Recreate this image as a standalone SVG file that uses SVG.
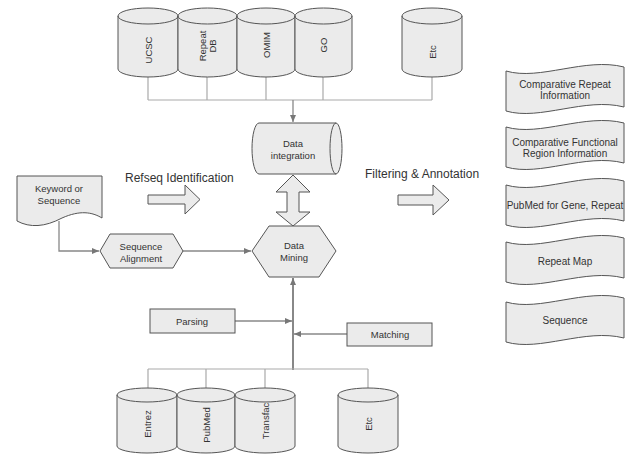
<svg xmlns="http://www.w3.org/2000/svg" width="629" height="455" viewBox="0 0 629 455">
<style>
.s{fill:#ebebeb;stroke:#555;stroke-width:1}
.ln{fill:none;stroke:#555;stroke-width:1}
.bus{fill:none;stroke:#aaa;stroke-width:1.2}
.con{fill:none;stroke:#888;stroke-width:1.3}
.main{fill:none;stroke:#888;stroke-width:2}
.t{font-family:"Liberation Sans",Arial,sans-serif;font-size:9.5px;fill:#333;text-anchor:middle;dominant-baseline:central}
.tp{font-family:"Liberation Sans",Arial,sans-serif;font-size:10px;fill:#333;text-anchor:middle;dominant-baseline:central}
.big{font-family:"Liberation Sans",Arial,sans-serif;font-size:12px;fill:#333}
</style>
<defs>
<marker id="ar" markerWidth="8" markerHeight="8" refX="7" refY="4" orient="auto" markerUnits="userSpaceOnUse">
<path d="M0,1 L7,4 L0,7 Z" fill="#777"/>
</marker>
</defs>
<rect width="629" height="455" fill="#fff"/>

<g id="connectors">
<path class="bus" d="M148,77 V100 M207,77 V100 M266,77 V100 M323,77 V100 M432,77 V100 M148,100 H432"/>
<path class="con" d="M293,100 V122" marker-end="url(#ar)"/>
<path class="con" d="M59,221 V251 H99" marker-end="url(#ar)"/>
<path class="con" d="M183,251 H251" marker-end="url(#ar)"/>
<path class="main" d="M293,370 V278" marker-end="url(#ar)"/>
<path class="con" d="M235,321 H292" marker-end="url(#ar)"/>
<path class="con" d="M347,334 H294" marker-end="url(#ar)"/>
<path class="bus" d="M148,369 H368 M148,369 V396 M206,369 V396 M265,369 V396 M368,369 V396"/>
</g>

<g id="db-ucsc">
<path class="s" d="M118,16 A30,8 0 0 1 178,16 V69 A30,8 0 0 1 118,69 Z"/>
<path class="ln" d="M118,16 A30,8 0 0 0 178,16"/>
<text class="t" transform="translate(148,50) rotate(-90)">UCSC</text>
</g>
<g id="db-repeat">
<path class="s" d="M178,16 A29.5,8 0 0 1 237,16 V69 A29.5,8 0 0 1 178,69 Z"/>
<path class="ln" d="M178,16 A29.5,8 0 0 0 237,16"/>
<text class="t" transform="translate(207,46) rotate(-90)"><tspan x="0" dy="-5">Repeat</tspan><tspan x="0" dy="10">DB</tspan></text>
</g>
<g id="db-omim">
<path class="s" d="M237,16 A29,8 0 0 1 295,16 V69 A29,8 0 0 1 237,69 Z"/>
<path class="ln" d="M237,16 A29,8 0 0 0 295,16"/>
<text class="t" transform="translate(266,45) rotate(-90)">OMIM</text>
</g>
<g id="db-go">
<path class="s" d="M295,16 A28.5,8 0 0 1 352,16 V69 A28.5,8 0 0 1 295,69 Z"/>
<path class="ln" d="M295,16 A28.5,8 0 0 0 352,16"/>
<text class="t" transform="translate(323,45) rotate(-90)">GO</text>
</g>
<g id="db-etc-top">
<path class="s" d="M402,16 A30,8 0 0 1 462,16 V69 A30,8 0 0 1 402,69 Z"/>
<path class="ln" d="M402,16 A30,8 0 0 0 462,16"/>
<text class="t" transform="translate(432,52) rotate(-90)">Etc</text>
</g>

<g id="data-integration">
<path class="s" d="M259,123 H336 A6,25.5 0 0 1 336,174 H259 A7,25.5 0 0 1 259,123 Z"/>
<path class="ln" d="M336,123 A6,25.5 0 0 0 336,174"/>
<text class="t" x="293" y="143">Data</text>
<text class="t" x="293" y="155">integration</text>
</g>

<g id="double-arrow">
<path class="s" d="M293,175 L310,192 L299,192 L299,212 L310,212 L293,226 L276,212 L287,212 L287,192 L276,192 Z"/>
</g>

<g id="data-mining">
<path class="s" d="M252,251 L269,226 L319,226 L336,251 L319,277 L269,277 Z"/>
<text class="t" x="294" y="245">Data</text>
<text class="t" x="294" y="257">Mining</text>
</g>

<g id="keyword">
<path class="s" d="M17,176 H102 V218 C92,212 80,210 62,218 C45,227 30,228 17,221 Z"/>
<text class="t" x="59" y="188">Keyword or</text>
<text class="t" x="59" y="200">Sequence</text>
</g>

<g id="seq-align">
<path class="s" d="M100,251 L110,234 L173,234 L183,251 L173,268 L110,268 Z"/>
<text class="t" x="141" y="246">Sequence</text>
<text class="t" x="141" y="258">Alignment</text>
</g>

<g id="refseq">
<text class="big" x="125" y="182">Refseq Identification</text>
<path class="s" d="M148,195 H185 V185 L200,199.5 L185,214 V204 H148 Z"/>
</g>

<g id="filtering">
<text class="big" x="365" y="178">Filtering &amp; Annotation</text>
<path class="s" d="M398,195 H433 V185 L449,200 L433,215 V205 H398 Z"/>
</g>

<g id="out-1">
<path class="s" d="M506,71 C540,81 585,57 624,67 V107 C585,97 540,121 506,111 Z"/>
<text class="tp" x="565" y="84">Comparative Repeat</text>
<text class="tp" x="565" y="95">Information</text>
</g>
<g id="out-2">
<path class="s" d="M506,127 C540,137 585,113 624,123 V163 C585,153 540,177 506,167 Z"/>
<text class="tp" x="565" y="142">Comparative Functional</text>
<text class="tp" x="565" y="153">Region Information</text>
</g>
<g id="out-3">
<path class="s" d="M506,185 C540,195 585,171 624,181 V221 C585,211 540,235 506,225 Z"/>
<text class="tp" x="565" y="205">PubMed for Gene, Repeat</text>
</g>
<g id="out-4">
<path class="s" d="M506,242 C540,252 585,228 624,238 V278 C585,268 540,292 506,282 Z"/>
<text class="tp" x="565" y="261">Repeat Map</text>
</g>
<g id="out-5">
<path class="s" d="M506,302 C540,312 585,288 624,298 V338 C585,328 540,352 506,342 Z"/>
<text class="tp" x="565" y="320">Sequence</text>
</g>

<g id="parsing">
<rect class="s" x="150" y="309" width="85" height="24"/>
<text class="t" x="192" y="321">Parsing</text>
</g>
<g id="matching">
<rect class="s" x="347" y="323" width="85" height="23"/>
<text class="t" x="390" y="334">Matching</text>
</g>

<g id="db-entrez">
<path class="s" d="M117,395 A30,7 0 0 1 177,395 V446 A30,7 0 0 1 117,446 Z"/>
<path class="ln" d="M117,395 A30,7 0 0 0 177,395"/>
<text class="t" transform="translate(147,424) rotate(-90)">Entrez</text>
</g>
<g id="db-pubmed">
<path class="s" d="M177,395 A29,7 0 0 1 235,395 V446 A29,7 0 0 1 177,446 Z"/>
<path class="ln" d="M177,395 A29,7 0 0 0 235,395"/>
<text class="t" transform="translate(206,425) rotate(-90)">PubMed</text>
</g>
<g id="db-transfac">
<path class="s" d="M235,395 A30,7 0 0 1 295,395 V446 A30,7 0 0 1 235,446 Z"/>
<path class="ln" d="M235,395 A30,7 0 0 0 295,395"/>
<text class="t" transform="translate(265,421) rotate(-90)">Transfac</text>
</g>
<g id="db-etc-bottom">
<path class="s" d="M338,395 A30,7 0 0 1 398,395 V446 A30,7 0 0 1 338,446 Z"/>
<path class="ln" d="M338,395 A30,7 0 0 0 398,395"/>
<text class="t" transform="translate(368,424) rotate(-90)">Etc</text>
</g>
</svg>
